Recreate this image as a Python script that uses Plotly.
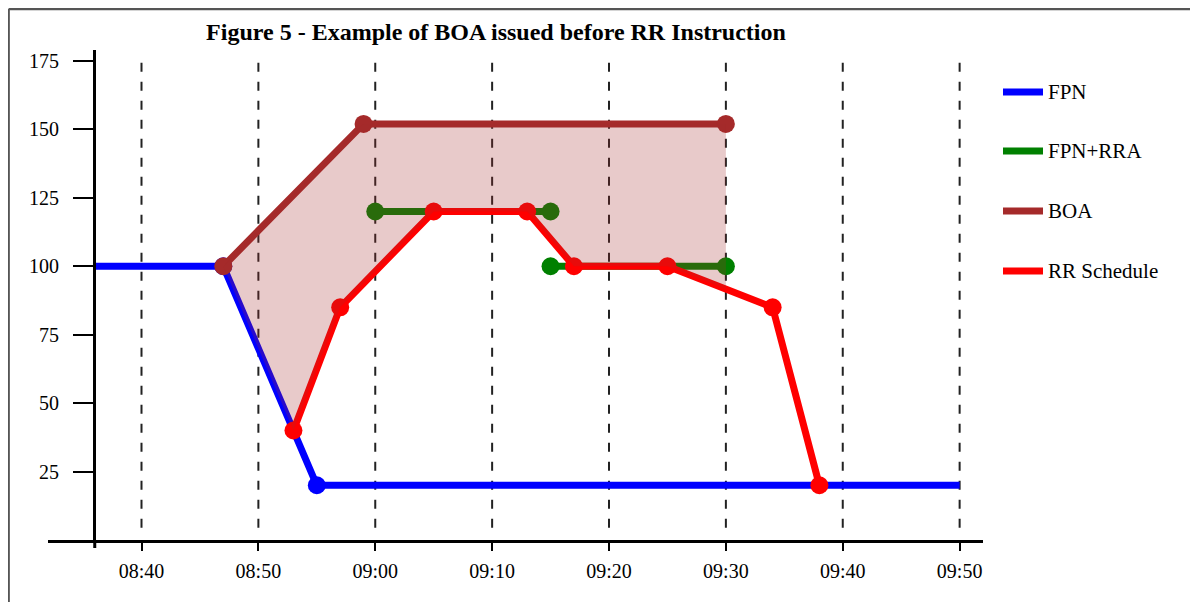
import numpy as np
import plotly.graph_objects as go

# ---------------- data ----------------
DAY = "2024-01-01 "
fpn_time = ["08:36", "08:47", "08:55", "09:50"]
fpn_mw = [100, 100, 20, 20]
fpn_dot = [0, 1, 1, 0]          # which FPN points carry a dot

rra_time = ["09:00", "09:15", None, "09:15", "09:30"]
rra_mw = [120, 120, None, 100, 100]

boa_time = ["08:47", "08:59", "09:30"]
boa_mw = [100, 152, 152]

rr_time = ["08:53", "08:57", "09:05", "09:13", "09:17", "09:25", "09:34", "09:38"]
rr_mw = [40, 85, 120, 120, 100, 100, 85, 20]

x_ticks = ["08:40", "08:50", "09:00", "09:10", "09:20", "09:30", "09:40", "09:50"]
y_ticks = [25, 50, 75, 100, 125, 150, 175]
x_range = ["08:32", "09:52"]
y_range = [0, 179]

series_names = ["FPN", "FPN+RRA", "BOA", "RR Schedule"]
series_colors = ["#0000FF", "#008000", "#A52A2A", "#FF0000"]

TITLE = "Figure 5 - Example of BOA issued before RR Instruction"
FONT = "Liberation Serif, Times New Roman, serif"

LW = 7      # line width
MS = 18     # marker size


def d(t):
    return None if t is None else DAY + t


def mins(t):
    h, m = t.split(":")
    return int(h) * 60 + int(m)


# ---------------- geometry ----------------
# the page body adds an 8px margin, so the figure is drawn 8px smaller and
# all positions below are given in page pixels and converted.
OFF = 8
W, H = 1198 - OFF, 602 - OFF
L, R, T, B = 48, 983, 50, 540          # page pixels of the plot area


def px(xp):
    return (xp - L) / (R - L)


def py(yp):
    return (B - yp) / (B - T)


fig = go.Figure()

# FPN
fig.add_trace(go.Scatter(
    x=[d(t) for t in fpn_time], y=fpn_mw, mode="lines+markers",
    line=dict(color=series_colors[0], width=LW),
    marker=dict(size=MS, color=series_colors[0], opacity=fpn_dot),
    name=series_names[0], showlegend=False))

# FPN+RRA
fig.add_trace(go.Scatter(
    x=[d(t) for t in rra_time], y=rra_mw, mode="lines+markers",
    line=dict(color=series_colors[1], width=LW),
    marker=dict(size=MS, color=series_colors[1]),
    connectgaps=False, name=series_names[1], showlegend=False))

# RR schedule
fig.add_trace(go.Scatter(
    x=[d(t) for t in rr_time], y=rr_mw, mode="lines+markers",
    line=dict(color=series_colors[3], width=LW),
    marker=dict(size=MS, color=series_colors[3]),
    name=series_names[3], showlegend=False))

# BOA
fig.add_trace(go.Scatter(
    x=[d(t) for t in boa_time], y=boa_mw, mode="lines+markers",
    line=dict(color=series_colors[2], width=LW),
    marker=dict(size=MS, color=series_colors[2]),
    name=series_names[2], showlegend=False))

# shaded area between BOA and RR schedule (drawn on top, translucent)
boa_end = mins(boa_time[-1])
rr_m = [mins(t) for t in rr_time]
end_val = float(np.interp(boa_end, rr_m, rr_mw))
poly_t = list(boa_time) + [boa_time[-1]]
poly_v = list(boa_mw) + [end_val]
for t, v in reversed(list(zip(rr_time, rr_mw))):
    if mins(t) < boa_end:
        poly_t.append(t)
        poly_v.append(v)
fig.add_trace(go.Scatter(
    x=[d(t) for t in poly_t], y=poly_v, mode="none", fill="toself",
    fillcolor="rgba(165,42,42,0.25)", hoverinfo="skip", showlegend=False))

shapes = []
# dashed vertical guide lines
for t in x_ticks:
    shapes.append(dict(type="line", xref="x", yref="y", x0=d(t), x1=d(t),
                       y0=4.5, y1=175.5, layer="below",
                       line=dict(color="#222222", width=2, dash="9px,10px")))
# y-axis stub below the x axis
shapes.append(dict(type="line", xref="x", yref="paper", x0=d("08:36"), x1=d("08:36"),
                   y0=0, y1=py(548), line=dict(color="black", width=3)))
# frame lines
shapes.append(dict(type="line", xref="paper", yref="paper", x0=px(OFF + 0.6), x1=px(1198),
                   y0=py(9), y1=py(9), line=dict(color="#555555", width=2.5)))
shapes.append(dict(type="line", xref="paper", yref="paper", x0=px(OFF + 0.6), x1=px(OFF + 0.6),
                   y0=py(9), y1=py(602), line=dict(color="#555555", width=2.5)))

# manual legend
annotations = []
leg_y = [92, 151, 211, 271]
for name, col, yy in zip(series_names, series_colors, leg_y):
    shapes.append(dict(type="line", xref="paper", yref="paper", x0=px(1003), x1=px(1043),
                       y0=py(yy), y1=py(yy), line=dict(color=col, width=7)))
    annotations.append(dict(xref="paper", yref="paper", x=px(1046), y=py(yy),
                            text=name, showarrow=False, xanchor="left", yanchor="middle",
                            font=dict(family=FONT, size=21, color="black")))

fig.update_layout(
    width=W, height=H,
    margin=dict(l=L - OFF, r=1198 - R, t=T - OFF, b=602 - B, pad=0),
    paper_bgcolor="white", plot_bgcolor="white",
    title=dict(text=TITLE, x=(496 - OFF) / W, xref="container", xanchor="center",
               y=1 - (32 - OFF) / H, yref="container", yanchor="middle",
               font=dict(family=FONT, size=24, color="black", weight="bold")),
    xaxis=dict(type="date", range=[d(t) for t in x_range],
               tickvals=[d(t) for t in x_ticks], ticktext=x_ticks,
               showline=True, linecolor="black", linewidth=3,
               ticks="outside", ticklen=8, tickwidth=2, tickcolor="black",
               showgrid=False, zeroline=False, ticklabelstandoff=3,
               tickfont=dict(family=FONT, size=20, color="black")),
    yaxis=dict(range=y_range, tickvals=y_ticks,
               anchor="free", position=px(94), side="left",
               showline=True, linecolor="black", linewidth=3,
               ticks="outside", ticklen=20, tickwidth=2, tickcolor="black",
               showgrid=False, zeroline=False, ticklabelstandoff=10,
               tickfont=dict(family=FONT, size=20, color="black")),
    shapes=shapes, annotations=annotations,
    showlegend=False,
)

fig.write_html("out.html")
